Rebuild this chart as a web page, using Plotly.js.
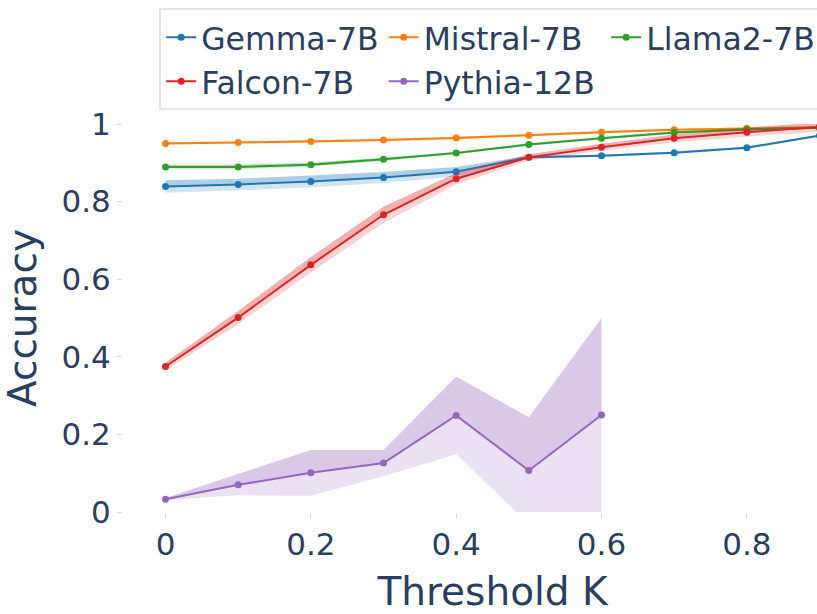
<!DOCTYPE html>
<html>
<head>
<meta charset="utf-8">
<script src="https://cdn.plot.ly/plotly-3.0.1.min.js"></script>
<style>
html, body { margin: 0; padding: 0; overflow: hidden; background: #fff; }
#chart { width: 900px; height: 614px; }
</style>
</head>
<body>
<div id="chart"></div>
<script>
// Threshold values
const thresholds = [0, 0.1, 0.2, 0.3, 0.4, 0.5, 0.6, 0.7, 0.8, 0.9];
const thresholdsPythia = [0, 0.1, 0.2, 0.3, 0.4, 0.5, 0.6];

const modelNames = ["Gemma-7B", "Mistral-7B", "Llama2-7B", "Falcon-7B", "Pythia-12B"];

const gemmaMean   = [0.839, 0.844, 0.852, 0.862, 0.877, 0.914, 0.918, 0.926, 0.939, 0.970];
const gemmaStd    = [0.016, 0.015, 0.015, 0.014, 0.012, 0.004, 0.003, 0.003, 0.003, 0.003];
const mistralMean = [0.950, 0.952, 0.955, 0.959, 0.964, 0.971, 0.979, 0.985, 0.989, 0.992];
const mistralStd  = [0.003, 0.003, 0.003, 0.003, 0.003, 0.003, 0.003, 0.003, 0.003, 0.003];
const llamaMean   = [0.889, 0.889, 0.895, 0.909, 0.925, 0.947, 0.963, 0.978, 0.986, 0.990];
const llamaStd    = [0.006, 0.006, 0.005, 0.004, 0.003, 0.003, 0.003, 0.003, 0.003, 0.003];
const falconMean  = [0.375, 0.501, 0.637, 0.766, 0.859, 0.914, 0.940, 0.963, 0.979, 0.992];
const falconStd   = [0.010, 0.017, 0.020, 0.021, 0.015, 0.008, 0.009, 0.010, 0.012, 0.012];
const pythiaMean  = [0.033, 0.070, 0.101, 0.126, 0.249, 0.107, 0.250];
const pythiaStd   = [0.003, 0.027, 0.059, 0.034, 0.100, 0.137, 0.250];

const xTickVals = [0, 0.2, 0.4, 0.6, 0.8];
const xTickText = ["0", "0.2", "0.4", "0.6", "0.8"];
const yTickVals = [0, 0.2, 0.4, 0.6, 0.8, 1];
const yTickText = ["0", "0.2", "0.4", "0.6", "0.8", "1"];

const colors = ["#1f77b4", "#ff7f0e", "#2ca02c", "#d62728", "#9467bd"];
const fills  = ["rgba(31,119,180,0.2)", "rgba(255,127,14,0.2)", "rgba(44,160,44,0.2)", "rgba(214,39,40,0.2)", "rgba(148,103,189,0.2)"];

const series = [
  {x: thresholds, m: gemmaMean, s: gemmaStd},
  {x: thresholds, m: mistralMean, s: mistralStd},
  {x: thresholds, m: llamaMean, s: llamaStd},
  {x: thresholds, m: falconMean, s: falconStd},
  {x: thresholdsPythia, m: pythiaMean, s: pythiaStd}
];

const traces = [];
series.forEach((d, i) => {
  const upper = d.m.map((v, k) => v + d.s[k]);
  const lower = d.m.map((v, k) => v - d.s[k]);
  const hidden = {mode: "lines", line: {width: 0, color: colors[i]}, showlegend: false, hoverinfo: "skip"};
  traces.push(Object.assign({x: d.x, y: lower, type: "scatter"}, hidden));
  traces.push(Object.assign({x: d.x, y: upper, type: "scatter", fill: "tonexty", fillcolor: fills[i]}, hidden));
  traces.push(Object.assign({x: d.x, y: d.m, type: "scatter"}, hidden));
  traces.push(Object.assign({x: d.x, y: upper, type: "scatter", fill: "tonexty", fillcolor: fills[i]}, hidden));
  traces.push({
    x: d.x, y: d.m, type: "scatter", mode: "lines+markers",
    name: modelNames[i],
    line: {color: colors[i], width: 2},
    marker: {color: colors[i], size: 7},
    showlegend: true
  });
});

const fontColor = "#2a3f5f";
const layout = {
  width: 900,
  height: 614,
  margin: {l: 123, r: 38, t: 124, b: 102, autoexpand: false},
  paper_bgcolor: "#ffffff",
  plot_bgcolor: "#ffffff",
  font: {family: "DejaVu Sans", color: fontColor, size: 31},
  showlegend: true,
  legend: {
    orientation: "h",
    x: 0.049, xanchor: "left",
    y: 1.298, yanchor: "top",
    bgcolor: "#ffffff",
    bordercolor: "#e5e5e5",
    borderwidth: 2,
    font: {family: "DejaVu Sans", size: 31.5, color: fontColor},
    traceorder: "normal"
  },
  xaxis: {
    range: [-0.0585, 0.9585],
    tickvals: xTickVals, ticktext: xTickText,
    showgrid: false, zeroline: false, showline: false,
    ticks: "outside", ticklen: 5, tickcolor: "#dddddd",
    tickfont: {size: 31, color: fontColor},
    title: {text: "Threshold K", font: {size: 39, color: fontColor}}
  },
  yaxis: {
    range: [0, 1],
    tickvals: yTickVals, ticktext: yTickText,
    showgrid: false, zeroline: false, showline: false,
    ticks: "outside", ticklen: 5, tickcolor: "#dddddd",
    tickfont: {size: 31, color: fontColor},
    title: {text: "Accuracy", font: {size: 39, color: fontColor}}
  }
};

Plotly.newPlot("chart", traces, layout, {displayModeBar: false, staticPlot: true});
</script>
</body>
</html>
